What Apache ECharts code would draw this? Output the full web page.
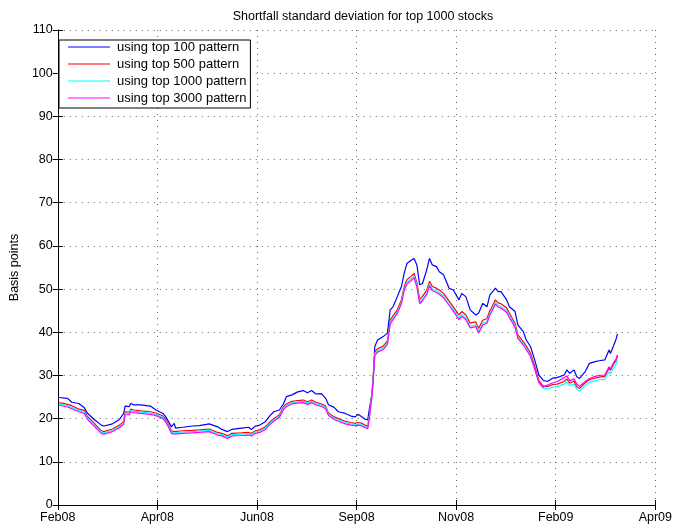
<!DOCTYPE html>
<html>
<head>
<meta charset="utf-8">
<title>Shortfall standard deviation</title>
<script src="https://cdn.jsdelivr.net/npm/echarts@6/dist/echarts.min.js"></script>
<style>
  html, body { margin: 0; padding: 0; background: #fff; }
  #chart { width: 675px; height: 531px; }
</style>
</head>
<body>
<div id="chart"></div>
<script>
// Days since 1 Feb 2008 for each observation
const days = [1,7,10,15,19,21,26,31,33,39,44,47,48,51,52,54,59,66,70,75,77,79,81,83,84,89,96,101,108,114,117,121,124,131,136,138,141,144,148,151,154,158,161,163,167,171,175,178,181,184,188,191,193,197,200,205,209,212,214,217,219,221,222,224,225,226,228,232,235,237,239,242,245,247,249,252,254,256,258,260,263,265,267,270,272,275,279,282,286,288,291,294,298,300,303,306,308,309,312,314,316,320,322,326,328,332,334,337,340,341,343,346,349,353,356,361,363,365,368,370,372,376,379,383,386,390,393,394,396,398,399];

// Shortfall standard deviation (basis points) by pattern universe
const top100 = [24.9,24.7,23.8,23.5,22.5,21.3,19.8,18.5,18.3,18.8,19.8,21.2,22.9,22.8,23.5,23.2,23.2,22.9,22.0,21.2,20.4,19.3,18.1,18.9,17.8,18.0,18.3,18.4,18.8,18.1,17.5,17.0,17.5,17.8,18.0,17.5,18.3,18.5,19.3,20.6,21.6,22.0,23.5,25.1,25.5,26.2,26.5,26.0,26.5,25.7,25.8,24.7,23.2,22.6,21.6,21.2,20.6,20.4,21.0,20.4,19.9,19.7,22.0,25.5,29.5,36.7,38.2,39.0,39.8,45.2,45.9,48.2,50.6,53.7,56.0,56.7,57.1,55.6,51.0,51.3,54.4,57.1,55.6,55.2,54.0,53.3,50.2,49.8,47.5,49.0,48.2,45.2,44.0,44.4,46.7,45.9,48.6,48.2,50.2,49.4,49.4,47.5,45.9,44.8,41.7,40.1,38.2,36.7,33.6,33.8,30.1,28.9,28.6,29.4,29.5,30.1,31.3,30.5,31.3,29.7,29.3,30.9,32.8,33.2,33.4,33.6,35.9,35.1,36.7,38.4,39.6];
const top500 = [23.7,23.3,23.0,22.2,21.9,20.6,18.9,17.2,17.0,17.6,18.5,19.3,21.6,21.5,22.2,22.0,21.8,21.6,21.3,20.6,19.8,18.6,17.2,17.0,17.0,17.2,17.3,17.4,17.6,16.8,16.6,16.0,16.6,16.7,16.8,16.6,17.2,17.4,18.1,19.2,20.0,20.9,22.8,23.4,24.0,24.2,24.3,23.9,24.3,23.8,23.4,22.9,21.3,20.4,20.0,19.4,19.1,18.9,19.1,18.9,18.5,18.2,20.5,26.0,30.5,35.4,36.2,36.8,38.0,42.8,43.8,45.2,47.5,50.6,52.2,53.0,53.6,51.5,47.6,48.3,49.7,51.8,50.6,50.2,49.8,49.0,47.2,45.9,44.0,44.8,44.0,42.1,42.4,40.9,42.8,43.2,45.0,45.5,47.5,46.8,46.6,45.6,44.4,42.1,39.4,37.8,36.8,35.2,32.2,31.8,28.8,27.6,27.4,27.9,28.0,28.6,29.2,28.2,28.7,27.4,27.0,28.3,29.0,29.4,29.6,29.8,31.7,31.2,32.5,33.5,34.5];
const top1000 = [23.4,23.0,22.6,21.9,21.5,20.2,18.5,16.9,16.7,17.3,18.2,19.0,21.2,21.2,21.9,21.7,21.5,21.3,21.0,20.3,19.5,18.3,16.9,16.7,16.7,16.9,17.0,17.1,17.3,16.5,16.3,15.7,16.3,16.4,16.5,16.3,16.9,17.1,17.8,18.9,19.7,20.6,22.4,23.1,23.7,23.9,24.0,23.6,24.0,23.5,23.1,22.6,21.0,20.1,19.7,19.1,18.8,18.6,18.8,18.6,18.2,17.9,20.2,25.6,30.1,35.0,35.8,36.4,37.6,42.3,43.3,44.7,47.0,50.1,51.6,52.4,53.0,50.9,47.0,47.7,49.1,51.2,50.0,49.6,49.2,48.4,46.6,45.3,43.3,44.1,43.3,41.4,41.7,40.2,42.1,42.5,44.4,44.9,46.9,46.2,46.0,45.0,43.8,41.6,38.9,37.3,36.3,34.6,31.6,31.2,28.2,27.0,26.8,27.3,27.4,28.0,28.5,27.6,28.0,26.8,26.4,27.7,28.4,28.8,29.0,29.1,30.9,30.4,31.7,32.6,33.7];
const top3000 = [23.1,22.7,22.3,21.6,21.2,19.9,18.2,16.6,16.4,17.0,17.9,18.7,20.9,20.9,21.6,21.4,21.2,21.0,20.7,20.0,19.2,18.0,16.6,16.4,16.4,16.6,16.7,16.8,17.0,16.2,16.0,15.4,16.0,16.1,16.2,16.0,16.6,16.8,17.5,18.6,19.4,20.3,22.1,22.8,23.4,23.6,23.7,23.3,23.7,23.2,22.8,22.3,20.7,19.8,19.4,18.8,18.5,18.3,18.5,18.3,17.9,17.7,19.9,25.2,29.7,34.6,35.4,36.0,37.2,41.9,42.9,44.3,46.6,49.7,51.2,52.0,52.6,50.5,46.6,47.3,48.7,50.8,49.6,49.2,48.8,48.0,46.2,44.9,42.9,43.7,42.9,41.0,41.3,39.8,41.7,42.1,44.0,44.5,46.5,45.8,45.6,44.6,43.4,41.2,38.6,37.0,36.0,34.4,31.5,31.2,28.4,27.3,27.8,28.3,28.6,29.5,29.9,28.8,29.2,28.0,27.5,28.6,29.3,29.8,30.0,30.1,32.0,31.5,32.8,33.8,34.8];

const seriesNames = ['using top 100 pattern', 'using top 500 pattern', 'using top 1000 pattern', 'using top 3000 pattern'];
const seriesValues = [top100, top500, top1000, top3000];
const seriesColors = ['#0000ff', '#ff0000', '#00ffff', '#ff00ff'];

// Month labels placed at equally spaced day ticks
const tickLabels = ['Feb08', 'Apr08', 'Jun08', 'Sep08', 'Nov08', 'Feb09', 'Apr09'];
const tickStep = 71;

const FONT = '"Liberation Sans", Arial, Helvetica, sans-serif';
const chart = echarts.init(document.getElementById('chart'), null, { renderer: 'canvas' });

const gridDots = { show: true, lineStyle: { color: '#666', width: 1, type: [1, 5] } };
const frameLine = { show: true, lineStyle: { color: '#000', width: 1 } };
const innerTick = { show: true, inside: true, length: 5, lineStyle: { color: '#000', width: 1 } };

chart.setOption({
  animation: false,
  backgroundColor: '#fff',
  title: {
    text: 'Shortfall standard deviation for top 1000 stocks',
    left: 358,
    top: 5,
    textAlign: 'center',
    textStyle: { fontFamily: FONT, fontSize: 12.5, fontWeight: 'normal', color: '#000' }
  },
  legend: {
    data: seriesNames,
    orient: 'vertical',
    left: 59,
    top: 40,
    backgroundColor: '#fff',
    borderColor: '#000',
    borderWidth: 1,
    padding: [0, 4, 3, 9],
    icon: 'rect',
    itemWidth: 42,
    itemHeight: 1.2,
    itemGap: 3,
    textStyle: { fontFamily: FONT, fontSize: 13, color: '#000', lineHeight: 14, height: 14, padding: [0, 0, 0, 2] }
  },
  grid: { left: 53, right: 17, top: 30, bottom: 26, containLabel: false },
  xAxis: [
    {
      type: 'value', min: 0, max: 426, interval: tickStep, position: 'bottom',
      axisLine: frameLine, axisTick: innerTick, splitLine: gridDots,
      axisLabel: {
        color: '#000', fontFamily: FONT, fontSize: 12.5, margin: 6,
        formatter: v => tickLabels[Math.round(v / tickStep)] || ''
      }
    },
    {
      type: 'value', min: 0, max: 426, interval: tickStep, position: 'top',
      axisLine: frameLine, axisTick: innerTick, splitLine: { show: false },
      axisLabel: { show: false }
    }
  ],
  yAxis: [
    {
      type: 'value', min: 0, max: 110, interval: 10, position: 'left',
      name: 'Basis points', nameLocation: 'middle', nameGap: 33, nameRotate: 90,
      nameTextStyle: { fontFamily: FONT, fontSize: 12.5, color: '#000' },
      axisLine: frameLine, axisTick: innerTick, splitLine: gridDots,
      axisLabel: { color: '#000', fontFamily: FONT, fontSize: 12.5, margin: 5 }
    },
    {
      type: 'value', min: 0, max: 110, interval: 10, position: 'right',
      axisLine: frameLine, axisTick: innerTick, splitLine: { show: false },
      axisLabel: { show: false }
    }
  ],
  series: seriesNames.map((name, k) => ({
    name,
    type: 'line',
    xAxisIndex: 0,
    yAxisIndex: 0,
    symbol: 'none',
    color: seriesColors[k],
    lineStyle: { color: seriesColors[k], width: 1.2 },
    data: days.map((d, i) => [d, seriesValues[k][i]])
  }))
});
</script>
</body>
</html>
